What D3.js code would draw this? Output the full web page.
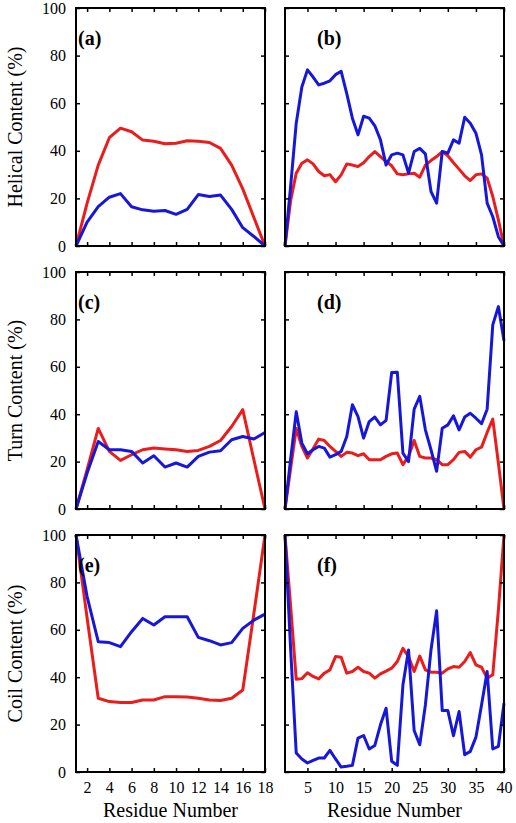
<!DOCTYPE html>
<html><head><meta charset="utf-8">
<script src="https://cdn.jsdelivr.net/npm/d3@7"></script>
<style>
body{margin:0;background:#fff}svg{display:block}
svg text{font-family:"Liberation Serif","Times New Roman",Times,"DejaVu Serif",serif;}
</style>
</head><body>
<svg id="chart" width="516" height="823"></svg>
<script>
// Residue indices
const residuesShort = d3.range(1, 19);   // 1..18
const residuesLong = d3.range(1, 41);    // 1..40

// Tick values
const yTicks = [0, 20, 40, 60, 80, 100];
const xTicksShort = [2, 4, 6, 8, 10, 12, 14, 16, 18];
const xTicksLong = [5, 10, 15, 20, 25, 30, 35, 40];

// Row labels and panel labels
const rowTitles = ["Helical Content (%)", "Turn Content (%)", "Coil Content (%)"];
const panelLabels = ["(a)", "(b)", "(c)", "(d)", "(e)", "(f)"];
const xTitle = "Residue Number";

// (a) helical, 18 residues
const helixShortRed  = [0, 18, 34, 45.5, 49.5, 48, 44.5, 44, 43, 43.2, 44.2, 44, 43.5, 41, 34, 24, 12, 0];
const helixShortBlue = [0, 10, 16.5, 20.5, 22, 16.5, 15.2, 14.6, 14.9, 13.3, 15.4, 21.6, 20.8, 21.4, 15.4, 7.7, 4, 0];
// (b) helical, 40 residues
const helixLongRed  = [0, 19, 30.6, 34.8, 36.2, 34.5, 31.3, 29.5, 30, 27, 29.9, 34.5, 34, 33.4, 35, 37.6, 39.7, 37.6, 35.5, 33.7,
                       30.3, 29.9, 30.3, 30.6, 28.9, 34, 35.9, 37.6, 39.7, 37.9, 35, 32.3, 29.5, 27.5, 29.9, 30.3, 28.5, 20.8, 11, 0];
const helixLongBlue = [0, 25, 51.6, 66.8, 74, 71, 67.7, 68.4, 69.4, 72, 73.4, 64, 53.7, 46.7, 54.5, 53.7, 50.5, 44.6, 34, 38.3,
                       39, 38.3, 30.6, 39.7, 41, 38.7, 22.9, 18, 39.7, 39, 44.6, 43.2, 54.1, 51.6, 47.4, 38.3, 18, 12.3, 3.9, 0];
// (c) turn, 18 residues
const turnShortRed  = [0, 16.6, 34, 24.3, 20.5, 22.9, 25, 25.7, 25.3, 25, 24.3, 24.7, 26.4, 28.9, 34.8, 41.9, 20.8, 0];
const turnShortBlue = [0, 15.2, 28.5, 25, 25, 24.3, 19.4, 22.5, 17.7, 19.4, 17.7, 22.2, 24, 24.6, 29.2, 30.6, 29.5, 32.3];
// (d) turn, 40 residues
const turnLongRed  = [0, 17, 34, 26.4, 21.5, 25.4, 29.5, 28.9, 26.4, 24.3, 22.2, 23.9, 23.6, 22.5, 23.3, 20.8, 20.8, 20.8, 22.2, 23.3,
                      23.6, 18.7, 22.2, 28.9, 22.2, 21.5, 21.5, 20.8, 18.7, 18.7, 20.8, 23.9, 24.3, 21.9, 25, 26.1, 32.3, 37.9, 19.4, 0];
const turnLongBlue = [0, 21, 41, 27.8, 23.3, 25, 26.4, 25.7, 21.9, 22.9, 24.3, 30.6, 44, 39, 29.9, 36.9, 38.8, 35.5, 37.4, 57.6,
                      57.7, 23.6, 20, 42.1, 47.5, 33.4, 25, 15.9, 34.1, 35.5, 39.3, 33.4, 38.8, 40.4, 38.3, 36, 42.1, 77.7, 85.4, 71];
// (e) coil, 18 residues
const coilShortRed  = [100, 65, 31.1, 29.7, 29.3, 29.3, 30.4, 30.4, 31.8, 31.8, 31.6, 31.1, 30.4, 30.2, 31.1, 34.6, 66.9, 100];
const coilShortBlue = [100, 74, 55, 54.6, 52.9, 59.2, 64.8, 62, 65.5, 65.5, 65.5, 56.8, 55.4, 53.6, 54.6, 60.6, 64.1, 66.6];
// (f) coil, 40 residues
const coilLongRed  = [100, 70, 39.1, 39.4, 41.9, 40.3, 39.3, 41.7, 43.1, 48.7, 48.4, 41.7, 42.4, 44.2, 42.4, 41.7, 39.6, 41.4, 42.6, 43.8,
                      46.6, 52.2, 48.7, 42.4, 48.9, 43.1, 42.1, 42.1, 41.7, 43.5, 44.5, 44.2, 46.6, 50.4, 45.2, 44.2, 39.6, 41, 68.3, 100];
const coilLongBlue = [100, 52, 8, 5.5, 3.8, 4.9, 5.9, 5.9, 9.1, 5.5, 2.1, 2.4, 2.8, 14.3, 15.4, 9.7, 11.2, 19.9, 26.9, 4.5,
                      2.8, 36.7, 51.5, 17.5, 11.5, 28.3, 51.5, 68, 25.9, 25.9, 15.3, 25.5, 7.3, 8.7, 14.7, 28.3, 42.4, 9.7, 10.8, 29];

const RED = "#ea1c1c", BLUE = "#1717d9";

const cols = [{x0: 76, x1: 265, xs: residuesShort, ticks: xTicksShort, dom: [1, 18]},
              {x0: 285, x1: 504, xs: residuesLong, ticks: xTicksLong, dom: [1, 40]}];
const rows = [{y0: 8, y1: 246}, {y0: 272, y1: 509}, {y0: 535, y1: 772}];
const seriesData = [
  [[helixShortRed, helixShortBlue], [helixLongRed, helixLongBlue]],
  [[turnShortRed, turnShortBlue], [turnLongRed, turnLongBlue]],
  [[coilShortRed, coilShortBlue], [coilLongRed, coilLongBlue]]
];

const svg = d3.select("#chart");

rows.forEach((r, ri) => {
  cols.forEach((c, ci) => {
    const x = d3.scaleLinear().domain(c.dom).range([c.x0, c.x1]);
    const y = d3.scaleLinear().domain([0, 100]).range([r.y1, r.y0]);
    const g = svg.append("g");

    const [redVals, blueVals] = seriesData[ri][ci];
    const line = d3.line().x((d, i) => x(c.xs[i])).y(d => y(d));
    [[redVals, RED], [blueVals, BLUE]].forEach(([vals, col]) => {
      g.append("path").datum(vals).attr("d", line)
        .attr("fill", "none").attr("stroke", col).attr("stroke-width", 3)
        .attr("stroke-linejoin", "round");
    });

    const isBottom = ri === 2, isLeft = ci === 0;
    const ax = (gen, tr) => {
      const a = g.append("g").attr("transform", tr).call(gen);
      a.attr("font-family", null);
      a.select(".domain").remove();
      a.selectAll(".tick line").attr("stroke", "#000").attr("stroke-width", 1.5);
      a.selectAll("text").style("font-size", "16px").attr("fill", "#000");
      return a;
    };
    ax(d3.axisBottom(x).tickValues(c.ticks).tickSize(-4).tickPadding(10)
        .tickFormat(isBottom ? d3.format("d") : () => ""), `translate(0,${r.y1})`);
    ax(d3.axisTop(x).tickValues(c.ticks).tickSize(-4).tickFormat(() => ""), `translate(0,${r.y0})`);
    ax(d3.axisLeft(y).tickValues(yTicks).tickSize(-4).tickPadding(10)
        .tickFormat(isLeft ? d3.format("d") : () => ""), `translate(${c.x0},0)`);
    ax(d3.axisRight(y).tickValues(yTicks).tickSize(-4).tickFormat(() => ""), `translate(${c.x1},0)`);

    g.append("rect").attr("x", c.x0).attr("y", r.y0)
      .attr("width", c.x1 - c.x0).attr("height", r.y1 - r.y0)
      .attr("fill", "none").attr("stroke", "#000").attr("stroke-width", 2);

    g.append("text").attr("x", c.x0 + (ci === 0 ? 2 : 32)).attr("y", r.y0 + 37)
      .style("font-weight", "bold").style("font-size", "20px")
      .text(panelLabels[ri * 2 + ci]);

    if (isBottom) {
      g.append("text").attr("x", (c.x0 + c.x1) / 2).attr("y", 817)
        .attr("text-anchor", "middle").style("font-size", "20px")
        .text(xTitle);
    }
  });
  svg.append("text")
    .attr("transform", `translate(22,${(r.y0 + r.y1) / 2}) rotate(-90)`)
    .attr("text-anchor", "middle").style("font-size", "20px")
    .text(rowTitles[ri]);
});
</script>
</body></html>
